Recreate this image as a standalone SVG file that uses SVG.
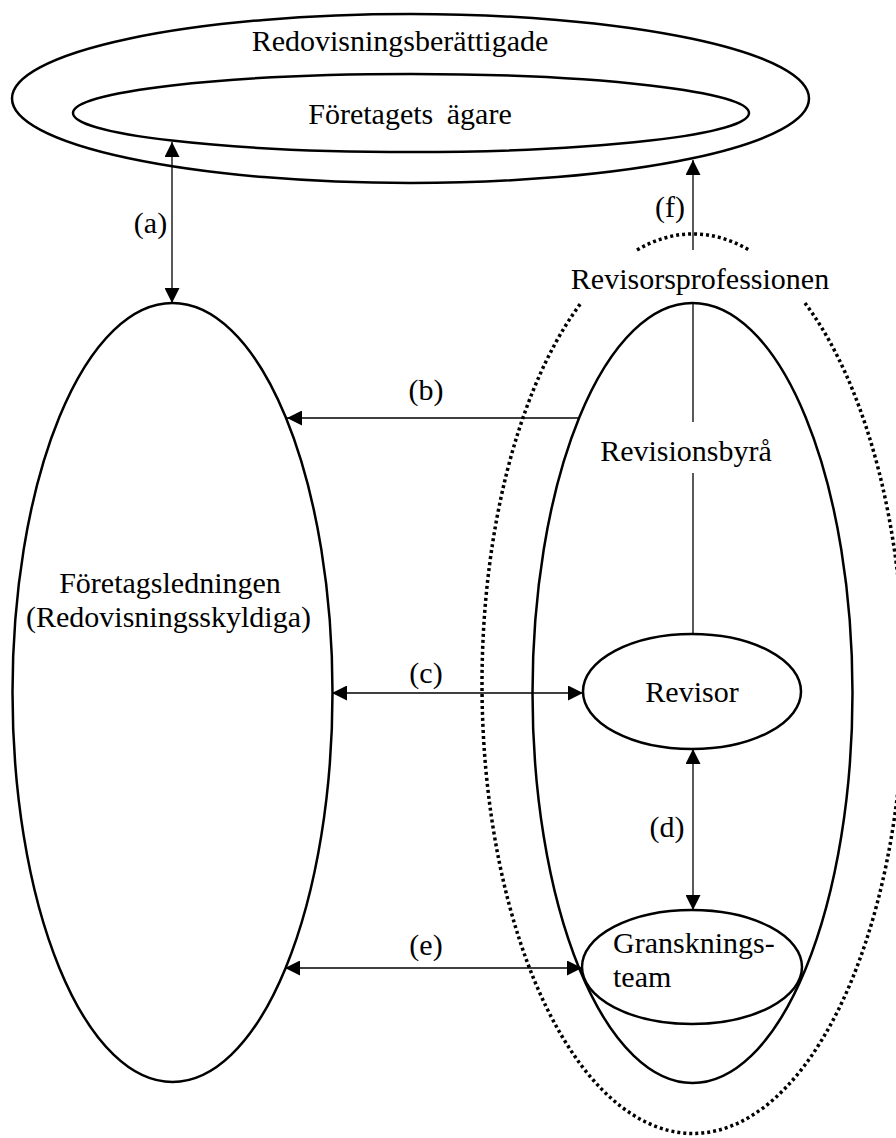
<svg xmlns="http://www.w3.org/2000/svg" width="896" height="1138" viewBox="0 0 896 1138" font-family="'Liberation Serif', 'Times New Roman', Times, serif">
<style>
.shape{fill:none;stroke:#000;stroke-width:2.5}
.dot{fill:none;stroke:#000;stroke-width:3.5;stroke-dasharray:3 3}
.con{fill:none;stroke:#000;stroke-width:1.3}
text{font-family:"Liberation Serif","Times New Roman",Times,serif;font-size:30px;fill:#000}
.m{text-anchor:middle}
</style>
<defs>
<marker id="ah" markerUnits="userSpaceOnUse" markerWidth="15" markerHeight="15" refX="15" refY="7.5" orient="auto-start-reverse" viewBox="0 0 15 15">
<path d="M0,0 L15,7.5 L0,15 z" fill="#000"/>
</marker>
</defs>
<rect width="896" height="1138" fill="#fff"/>
<g id="redovisningsberattigade">
<ellipse class="shape" cx="410.5" cy="98.5" rx="398.5" ry="84.5"/>
<text class="m" x="400" y="51">Redovisningsberättigade</text>
</g>
<g id="foretagets-agare">
<ellipse class="shape" cx="411" cy="113" rx="338" ry="39"/>
<text class="m" x="410" y="124" word-spacing="6">Företagets ägare</text>
</g>
<g id="foretagsledningen">
<ellipse class="shape" cx="172.5" cy="692.5" rx="160" ry="389.5"/>
<text class="m" x="170" y="593">Företagsledningen</text>
<text class="m" x="168.5" y="627">(Redovisningsskyldiga)</text>
</g>
<g id="revisorsprofessionen">
<path class="dot" d="M637,250 A211,449.5 0 0 1 749,250"/>
<path class="dot" d="M805,303 A211,449.5 0 1 1 581,303"/>
<text class="m" x="700" y="289">Revisorsprofessionen</text>
</g>
<g id="revisionsbyra">
<ellipse class="shape" cx="692.5" cy="693" rx="160" ry="390"/>
<text class="m" x="686" y="461">Revisionsbyrå</text>
</g>
<g id="revisor">
<ellipse class="shape" cx="692" cy="691.5" rx="109" ry="57.5"/>
<text class="m" x="692" y="702">Revisor</text>
</g>
<g id="granskningsteam">
<ellipse class="shape" cx="692" cy="967" rx="110" ry="57"/>
<text x="613" y="953">Gransknings-</text>
<text x="613" y="987">team</text>
</g>
<g id="connectors">
<line class="con" x1="172" y1="142" x2="172" y2="303" marker-start="url(#ah)" marker-end="url(#ah)"/>
<text class="m" x="150.5" y="233">(a)</text>
<line class="con" x1="579" y1="418" x2="287" y2="418" marker-end="url(#ah)"/>
<text class="m" x="426" y="400">(b)</text>
<line class="con" x1="332" y1="693" x2="583" y2="693" marker-start="url(#ah)" marker-end="url(#ah)"/>
<text class="m" x="426" y="683">(c)</text>
<line class="con" x1="693" y1="749" x2="693" y2="910" marker-start="url(#ah)" marker-end="url(#ah)"/>
<text class="m" x="667" y="837">(d)</text>
<line class="con" x1="285" y1="968" x2="582" y2="968" marker-start="url(#ah)" marker-end="url(#ah)"/>
<text class="m" x="426" y="955">(e)</text>
<line class="con" x1="693" y1="250" x2="693" y2="160" marker-end="url(#ah)"/>
<line class="con" x1="693" y1="302" x2="693" y2="422"/>
<line class="con" x1="693" y1="473" x2="693" y2="634"/>
<text class="m" x="670" y="217">(f)</text>
</g>
</svg>
